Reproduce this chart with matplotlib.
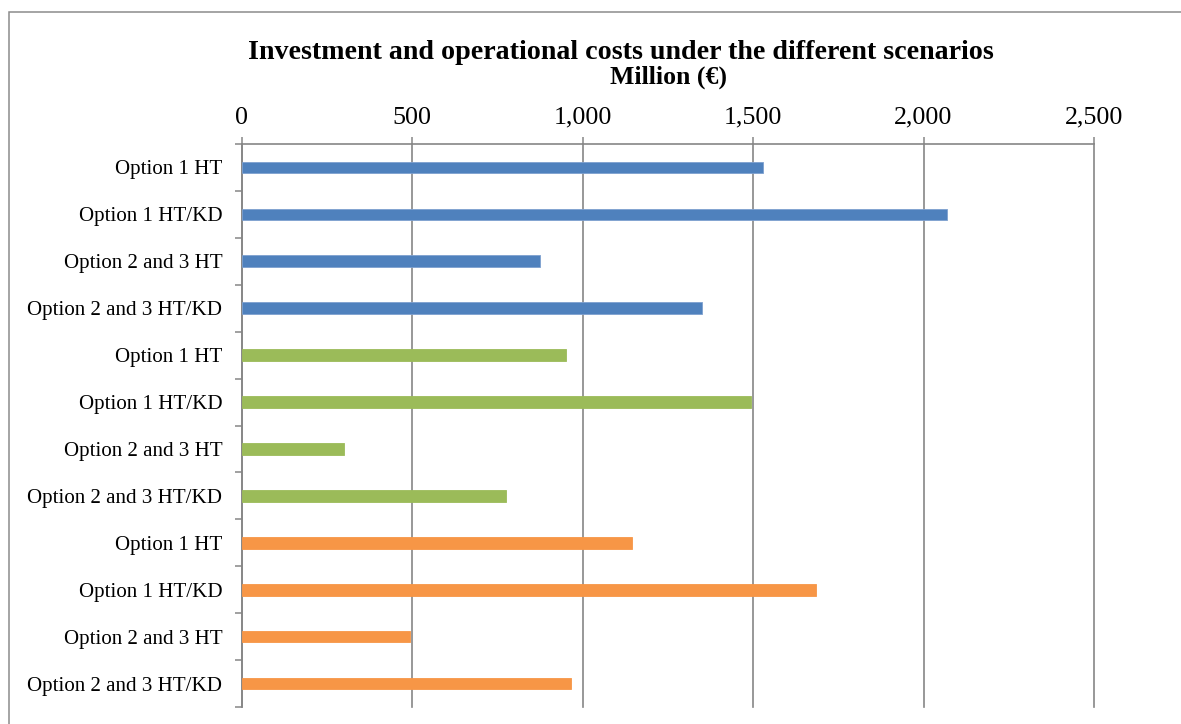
import matplotlib
matplotlib.use("Agg")
import matplotlib.pyplot as plt
from matplotlib.patches import Rectangle

# ---- data ----
categories = ["Option 1 HT", "Option 1 HT/KD", "Option 2 and 3 HT", "Option 2 and 3 HT/KD"]
series_blue = [1528, 2068, 875, 1350]
series_green = [950, 1495, 300, 775]
series_orange = [1145, 1686, 495, 965]
x_ticks = [0, 500, 1000, 1500, 2000, 2500]
x_tick_labels = ["0", "500", "1,000", "1,500", "2,000", "2,500"]
title = "Investment and operational costs under the different scenarios"
x_label = "Million (€)"

colors = ["#4F81BD", "#9BBB59", "#F79646"]
edges = ["#7EA0CF", "#9BBB59", "#F79646"]

plt.rcParams['font.family'] = ['Liberation Serif', 'DejaVu Serif']

W, H = 1181, 724
fig = plt.figure(figsize=(W / 100, H / 100), dpi=100)
ax = fig.add_axes([241.7 / W, 1 - 707 / H, (1094 - 241.7) / W, (707 - 144) / H])

labels = categories * 3
all_series = [series_blue, series_green, series_orange]
pos = 0
for vals, c, ec in zip(all_series, colors, edges):
    ys = list(range(pos, pos + len(vals)))
    ax.barh(ys, vals, height=0.25, color=c, edgecolor=ec, linewidth=0.6, zorder=3)
    pos += len(vals)

n = len(labels)
ax.set_ylim(n - 0.5, -0.5)
ax.set_xlim(0, 2500)

ax.set_yticks(range(n))
ax.set_yticklabels(labels, fontsize=15.15)
ax.set_yticks([i - 0.5 for i in range(n + 1)], minor=True)
ax.tick_params(axis='y', which='major', length=0, pad=14)
ax.tick_params(axis='y', which='minor', length=5, width=1.1, color='#868686', direction='out')

ax.xaxis.tick_top()
ax.set_xticks(x_ticks)
ax.set_xticklabels(x_tick_labels, fontsize=18.7)
ax.tick_params(axis='x', which='major', length=5, width=1.1, color='#868686', direction='out', pad=6)

ax.grid(axis='x', color='#868686', linewidth=1.2, zorder=0)
for gl in ax.get_xgridlines():
    gl.set_clip_on(False)
ax.set_axisbelow(True)
for s in ['right', 'bottom']:
    ax.spines[s].set_visible(False)
for s in ['top', 'left']:
    ax.spines[s].set_color('#868686')
    ax.spines[s].set_linewidth(1.2)

fig.text(621 / W, 1 - 59.3 / H, title, ha='center', va='baseline',
         fontsize=20.2, fontweight='bold')
fig.text(668.5 / W, 1 - 84 / H, x_label, ha='center', va='baseline',
         fontsize=18.5, fontweight='bold')

border = Rectangle((9.3 / W, -0.1), 2, 1 - 12.3 / H + 0.1, transform=fig.transFigure,
                   fill=False, edgecolor='#8c8c8c', linewidth=1.1, clip_on=False)
fig.patches.append(border)

fig.savefig("out.png", dpi=100, facecolor='white')
